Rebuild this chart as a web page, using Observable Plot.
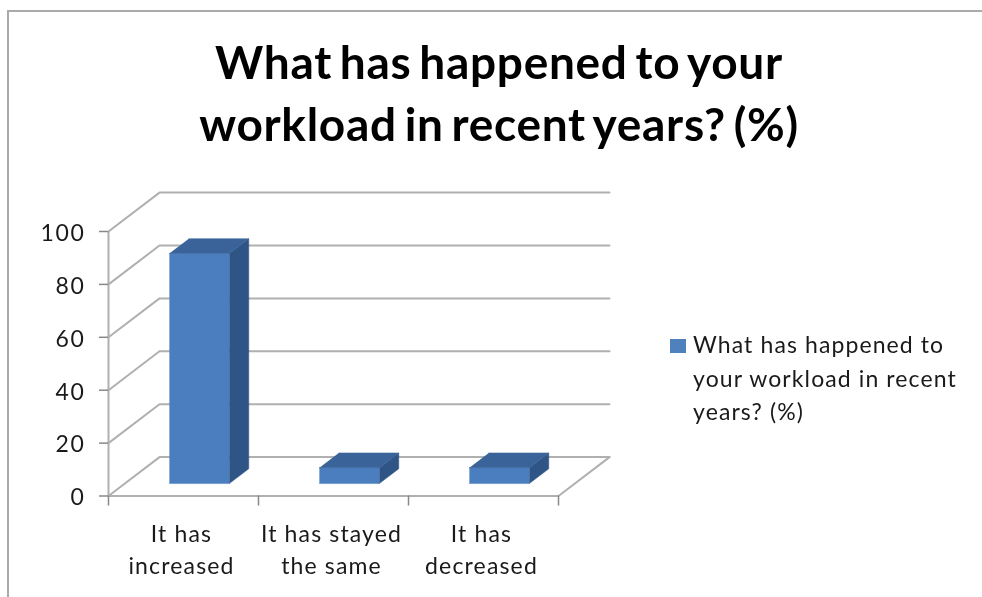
<!DOCTYPE html>
<html>
<head>
<meta charset="utf-8">
<script src="https://cdn.jsdelivr.net/npm/d3@7"></script>
<script src="https://cdn.jsdelivr.net/npm/@observablehq/plot@0.6"></script>
<style>
  html, body { margin: 0; padding: 0; background: #fff; width: 982px; height: 597px; overflow: hidden; }
  #wrap { position: relative; width: 982px; height: 597px; font-family: Lato, sans-serif; color: #1a1a1a; filter: blur(0.4px); }
  #wrap svg { position: absolute; left: 0; top: 0; }
  #wrap svg text { letter-spacing: 1.15px; }
  #wrap svg g[aria-label="y-axis tick label"] text { letter-spacing: 1.7px; }
  #border { position: absolute; left: 7px; top: 10px; right: 0; bottom: 0; border-left: 2px solid #aaa; border-top: 2px solid #aaa; }
  #title { position: absolute; left: 100px; width: 798px; top: 31px; text-align: center; font-weight: 700; font-size: 46px; line-height: 62px; color: #000; margin: 0; letter-spacing: 0.7px; word-spacing: -4px; }
  #legend { position: absolute; left: 670px; top: 328px; }
  #swatch { position: absolute; left: 0; top: 11px; width: 16px; height: 14px; background: #4f81bd; }
  #legendText { position: absolute; left: 23px; top: 0; width: 290px; font-size: 23px; line-height: 33.5px; letter-spacing: 1.1px; white-space: pre; }
</style>
</head>
<body>
<div id="wrap">
  <div id="border"></div>
  <h1 id="title">What has happened to your<br>workload in recent years? (%)</h1>
  <div id="legend"><div id="swatch"></div><div id="legendText"></div></div>
</div>
<script>
const seriesName = "What has happened to your workload in recent years? (%)";
const legendLines = ["What has happened to", "your workload in recent", "years? (%)"];
const categories = ["It has\nincreased", "It has stayed\nthe same", "It has\ndecreased"];
const values = [87, 6, 6];
const yTicks = [0, 20, 40, 60, 80, 100];
const xEdges = [0, 1, 2, 3];

// Oblique projection: depth 0 is the front of the floor, depth 1 is the back wall.
const depthX = 0.34;   // category units per unit of depth
const depthY = 14.7;   // value units per unit of depth
const proj = (c, v, d) => ({ x: c + d * depthX, y: v + d * depthY });

const barCenter = 0.497, barHalf = 0.2, dFront = 0.32, dBack = 0.7;

const face = (id, pts) => pts.map(([c, v, d]) => ({ id, ...proj(c, v, d) }));

const gridLines = yTicks.flatMap(v => face("g" + v, [[0, v, 0], [0, v, 1], [3, v, 1]]));
const floorLine = face("floor", [[0, 0, 0], [3, 0, 0], [3, 0, 1]]);

const fronts = [], sides = [], tops = [];
values.forEach((v, i) => {
  const l = i + barCenter - barHalf, r = i + barCenter + barHalf;
  fronts.push(...face("f" + i, [[l, 0, dFront], [r, 0, dFront], [r, v, dFront], [l, v, dFront]]));
  sides.push(...face("s" + i, [[r, 0, dFront], [r, 0, dBack], [r, v, dBack], [r, v, dFront]]));
  tops.push(...face("t" + i, [[l, v, dFront], [r, v, dFront], [r, v, dBack], [l, v, dBack]]));
});

const grey = "#b0b0b0";
const tickFont = { fontFamily: "Lato, sans-serif", fontSize: 23, fill: "#1a1a1a" };

const chart = Plot.plot({
  width: 982,
  height: 597,
  margin: 0,
  style: { background: "transparent", overflow: "visible" },
  x: { domain: [0, 3], range: [108, 558], axis: null },
  y: { domain: [0, 100], range: [495.5, 231], axis: null },
  marks: [
    Plot.line(gridLines, { x: "x", y: "y", z: "id", stroke: grey, strokeWidth: 2, curve: "linear" }),
    Plot.line(floorLine, { x: "x", y: "y", z: "id", stroke: grey, strokeWidth: 2, curve: "linear" }),
    Plot.ruleX([0], { y1: 0, y2: 100, stroke: grey, strokeWidth: 2 }),
    Plot.axisY({ ticks: yTicks, tickSize: 9, anchor: "left", x: 0, stroke: "#888", strokeWidth: 1.5,
      tickFormat: () => "", label: null }),
    Plot.axisY({ ticks: yTicks, tickSize: 0, tickPadding: 23, anchor: "left", x: 0, dy: 2,
      label: null, ...tickFont }),
    Plot.axisX({ ticks: xEdges, tickSize: 10, anchor: "bottom", y: 0, stroke: "#888", strokeWidth: 1.5,
      tickFormat: () => "", label: null }),
    Plot.line(fronts, { x: "x", y: "y", z: "id", fill: "#4a7ebf", stroke: "#4a7ebf", strokeWidth: 0.5, curve: "linear" }),
    Plot.line(sides, { x: "x", y: "y", z: "id", fill: "#2f5586", stroke: "#2f5586", strokeWidth: 0.5, curve: "linear" }),
    Plot.line(tops, { x: "x", y: "y", z: "id", fill: "#3a6499", stroke: "#3a6499", strokeWidth: 0.5, curve: "linear" }),
    Plot.text(categories, {
      x: (d, i) => i + 0.5, y: 0, text: d => d, dx: -2, dy: 52,
      lineHeight: 32 / 23, textAnchor: "middle",
      ...tickFont
    })
  ]
});
document.getElementById("wrap").appendChild(chart);
document.getElementById("legendText").textContent = legendLines.join("\n");
</script>
</body>
</html>
